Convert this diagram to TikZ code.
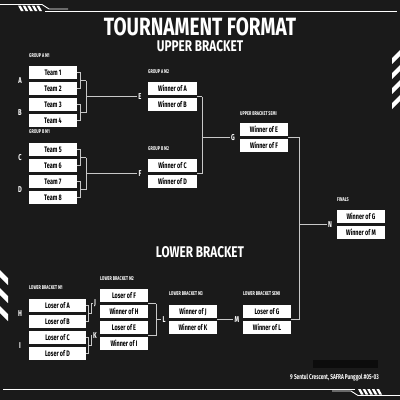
\documentclass[tikz,border=0pt]{standalone}
\usepackage{fontspec}
\setmainfont{Fira Sans}
\newfontfamily\cond[FakeStretch=0.68]{Fira Sans}
\newfontfamily\condT[FakeStretch=0.76]{Fira Sans}
\usetikzlibrary{calc}
\definecolor{bgc}{RGB}{26,26,26}
\definecolor{darkc}{RGB}{12,12,12}
\definecolor{lgray}{RGB}{200,200,200}
\tikzset{
  box/.style={fill=white, minimum width=48pt, minimum height=13pt, inner sep=0pt, text=black, font=\cond\bfseries\fontsize{8}{8}\selectfont},
  wbox/.style={box, minimum width=57pt},
  lab/.style={text=white, inner sep=1.2pt, font=\cond\bfseries\fontsize{8.5}{8.5}\selectfont},
  tag/.style={text=white, inner sep=0pt, anchor=west, font=\cond\bfseries\fontsize{5.5}{5.5}\selectfont},
  con/.style={draw=lgray, line width=0.8pt},
  deco/.style={draw=white, line width=0.9pt},
  head/.style={text=white, inner sep=0pt, anchor=base, text depth=0pt},
}
\newcommand\topdeco{%
  \draw[deco] (0,4.5) -- (42,4.5) -- (49,9) -- (68,9);
  \draw[deco] (45,11) -- (397,11);
  \foreach \i in {0,...,4}{\fill[white] ({18+4.6*\i},5.5) -- ++(2.6,0) -- ++(3,5.5) -- ++(-2.6,0) -- cycle;}%
}
\begin{document}
\begin{tikzpicture}[x=1pt,y=-1pt]
\fill[bgc] (0,0) rectangle (400,400);
\useasboundingbox (0,0) rectangle (400,400);
\fill[darkc] (313,360) rectangle (378,368);
% decorations
\topdeco
\begin{scope}[rotate around={180:(200,200)}]
\topdeco
\end{scope}
\foreach \y in {270,288,306}{\fill[white] (0,\y) -- (0,\y+7) -- (8,\y+15) -- (8,\y+8) -- cycle;}
\foreach \y in {50,65,80,95}{\fill[white] (392,\y+8) -- (392,\y+14) -- (400,\y+6) -- (400,\y) -- cycle;}
% titles
\node[head, font=\condT\bfseries\fontsize{25}{25}\selectfont] (title) at (200,35) {TOURNAMENT FORMAT};
\node[head, font=\condT\bfseries\fontsize{15.5}{15.5}\selectfont] (ub) at (200,51.5) {UPPER BRACKET};
\node[head, font=\condT\bfseries\fontsize{15.5}{15.5}\selectfont] (lbt) at (200,257.5) {LOWER BRACKET};
\node[text=white, inner sep=0pt, anchor=east, font=\cond\bfseries\fontsize{7}{7}\selectfont] (addr) at (379,378) {9 Sentul Crescent, SAFRA Punggol \#05-03};
% tags
\node[tag] (tga1) at (29,55.5) {GROUP A M1};
\node[tag] (tgb1) at (29,132) {GROUP B M1};
\node[tag] (tga2) at (148,72) {GROUP A M2};
\node[tag] (tgb2) at (148,149) {GROUP B M2};
\node[tag] (tgus) at (240,113.5) {UPPER BRACKET SEMI};
\node[tag] (tgf) at (337,199.5) {FINALS};
\node[tag] (tgl1) at (29,288) {LOWER BRACKET M1};
\node[tag] (tgl2) at (100,279) {LOWER BRACKET M2};
\node[tag] (tgl3) at (169,293.5) {LOWER BRACKET M3};
\node[tag] (tgls) at (243,294) {LOWER BRACKET SEMI};
% boxes upper
\node[box] (t1) at (53,72.5) {Team 1};
\node[box] (t2) at (53,88.5) {Team 2};
\node[box] (t3) at (53,104.5) {Team 3};
\node[box] (t4) at (53,120.5) {Team 4};
\node[box] (t5) at (53,149.5) {Team 5};
\node[box] (t6) at (53,165.5) {Team 6};
\node[box] (t7) at (53,181.5) {Team 7};
\node[box] (t8) at (53,197.5) {Team 8};
\node[box, minimum width=49pt] (wa) at (172.5,88.5) {Winner of A};
\node[box, minimum width=49pt] (wb) at (172.5,104.5) {Winner of B};
\node[box, minimum width=49pt] (wc) at (172.5,165.5) {Winner of C};
\node[box, minimum width=49pt] (wd) at (172.5,181.5) {Winner of D};
\node[box] (we) at (264,129.5) {Winner of E};
\node[box] (wf) at (264,145.5) {Winner of F};
\node[box] (wg) at (361,216.5) {Winner of G};
\node[box] (wm) at (361,232.5) {Winner of M};
% boxes lower
\node[wbox] (la) at (57.5,305.5) {Loser of A};
\node[wbox] (lb) at (57.5,321.5) {Loser of B};
\node[wbox] (lc) at (57.5,337.5) {Loser of C};
\node[wbox] (ld) at (57.5,353.5) {Loser of D};
\node[box] (lf) at (124,295.5) {Loser of F};
\node[box] (wh) at (124,311.5) {Winner of H};
\node[box] (le) at (124,327.5) {Loser of E};
\node[box] (wi) at (124,343.5) {Winner of I};
\node[box] (wj) at (193,311.5) {Winner of J};
\node[box] (wk) at (193,327.5) {Winner of K};
\node[box] (lg) at (267,311.5) {Loser of G};
\node[box] (wl) at (267,327.5) {Winner of L};
% letter labels
\node[lab] (A) at (20,80.5) {A};
\node[lab] (B) at (20,112.5) {B};
\node[lab] (C) at (20,157.5) {C};
\node[lab] (D) at (20,189.5) {D};
\node[lab] (E) at (140,96.5) {E};
\node[lab] (F) at (140,173.5) {F};
\node[lab] (G) at (233,137.5) {G};
\node[lab] (N) at (330,224.5) {N};
\node[lab] (H) at (20,313.5) {H};
\node[lab] (I) at (20,345.5) {I};
\node[lab] (J) at (95,303.5) {J};
\node[lab] (K) at (95,335.5) {K};
\node[lab] (L) at (164,319.5) {L};
\node[lab] (M) at (237,319.5) {M};
% upper connectors
\draw[con] (t1.east) -- ++(3,0) coordinate (p1) |- (t2.east);
\draw[con] (t3.east) -- ++(3,0) coordinate (p3) |- (t4.east);
\draw[con] (t5.east) -- ++(3,0) coordinate (p5) |- (t6.east);
\draw[con] (t7.east) -- ++(3,0) coordinate (p7) |- (t8.east);
\draw[con] (p1|-A) -- ++(6,0) coordinate (q1);
\draw[con] (p3|-B) -- ++(6,0) coordinate (q3);
\draw[con] (q1) -- (q3);
\draw[con] (q1|-E) -- (E.west);
\draw[con] (p5|-C) -- ++(6,0) coordinate (q5);
\draw[con] (p7|-D) -- ++(6,0) coordinate (q7);
\draw[con] (q5) -- (q7);
\draw[con] (q5|-F) -- (F.west);
\draw[con] ($(wa.east)!0.5!(wb.east)$) -- ++(5,0) coordinate (r1);
\draw[con] ($(wc.east)!0.5!(wd.east)$) -- ++(5,0) coordinate (r2);
\draw[con] (r1) -- (r2);
\draw[con] (r1|-G) -- (G.west);
\coordinate (lsm) at ($(lg.east)!0.5!(wl.east)$);
\draw[con] ($(we.east)!0.5!(wf.east)$) -- ++(11,0) coordinate (s1) -- (s1|-lsm) -- (lsm);
\draw[con] (s1|-N) -- (N.west);
% lower connectors
\draw[con] (la.east) -- ++(2,0) coordinate (u1) |- (lb.east);
\draw[con] (lc.east) -- ++(2,0) coordinate (u3) |- (ld.east);
\draw[con] (u1|-H) -- ++(3,0) coordinate (u1b) -- (u1b|-J) -- (J.west);
\draw[con] (u3|-I) -- ++(3,0) coordinate (u3b) -- (u3b|-K) -- (K.west);
\draw[con] ($(lf.east)!0.5!(wh.east)$) -- ++(8,0) coordinate (v1);
\draw[con] ($(le.east)!0.5!(wi.east)$) -- ++(8,0) coordinate (v2);
\draw[con] (v1) -- (v2);
\draw[con] (v1|-L) -- (L.west);
\draw[con] ($(wj.east)!0.5!(wk.east)$) -- (M.west);
\end{tikzpicture}
\end{document}
